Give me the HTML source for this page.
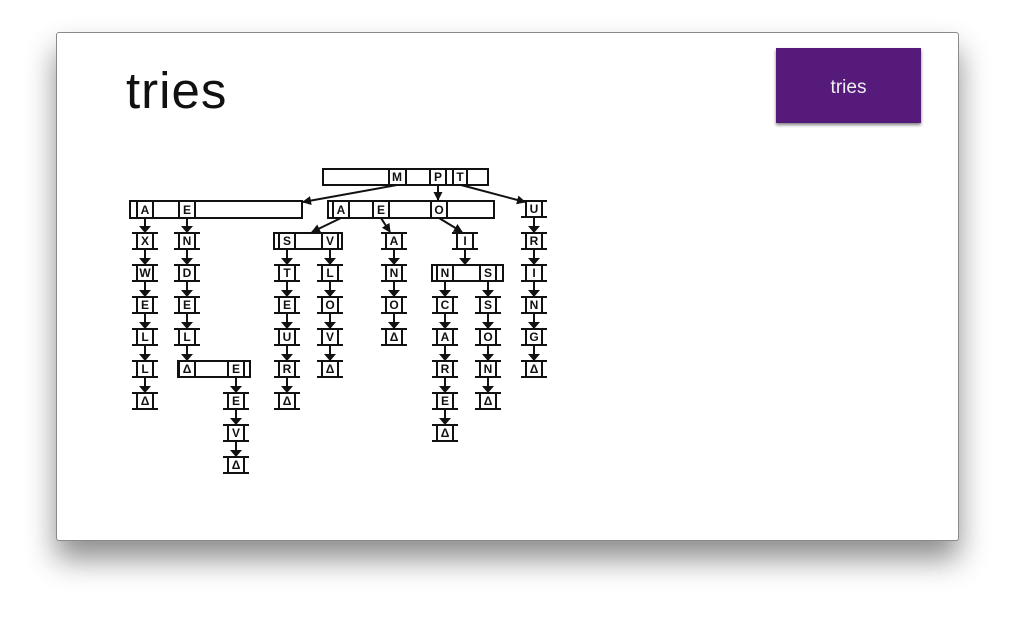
<!DOCTYPE html>
<html><head><meta charset="utf-8"><style>
body{margin:0;width:1014px;height:620px;background:#fff;overflow:hidden;font-family:"Liberation Sans",sans-serif}
.card{position:absolute;left:56px;top:32px;width:901px;height:507px;background:#fff;border:1px solid #8a8a8a;border-radius:3px;box-shadow:0 18px 30px rgba(0,0,0,.45)}
.title{position:absolute;left:126px;top:61px;font-size:51px;color:#111;font-weight:300;letter-spacing:1px}
.btn{position:absolute;left:776px;top:48px;width:145px;height:75px;background:#561a7b;color:#eee;font-size:19px;text-align:center;line-height:79px;box-shadow:0 2px 3px rgba(0,0,0,.5)}
svg{position:absolute;left:0;top:0}
text{font-family:"Liberation Sans",sans-serif;font-weight:bold;font-size:12px;text-anchor:middle;dominant-baseline:central;fill:#111}
</style></head><body>
<div class="card"></div>
<div class="title">tries</div>
<div class="btn">tries</div>
<svg width="1014" height="620">
<defs>
<g id="n" stroke="#111" stroke-width="2" fill="none"><rect x="-8" y="-8" width="16" height="16"/><line x1="-13" y1="-8" x2="13" y2="-8"/><line x1="-13" y1="8" x2="13" y2="8"/></g>
<g id="a" stroke="#111" stroke-width="2"><line x1="0" y1="8" x2="0" y2="20"/><polygon points="-6,17 6,17 0,24" fill="#111" stroke="none"/></g>
<marker id="m" markerWidth="9" markerHeight="9" refX="8" refY="4.5" orient="auto" markerUnits="userSpaceOnUse"><path d="M0,0 L9,4.5 L0,9z" fill="#111"/></marker>
</defs>
<g stroke="#111" stroke-width="2" fill="none">
<rect x="323" y="169" width="165" height="16"/>
<rect x="389" y="169" width="17" height="16"/><rect x="430" y="169" width="16" height="16"/><rect x="453" y="169" width="14" height="16"/>
<rect x="130" y="201" width="172" height="17"/>
<rect x="137" y="201" width="16" height="17"/><rect x="179" y="201" width="16" height="17"/>
<rect x="328" y="201" width="166" height="17"/>
<rect x="333" y="201" width="16" height="17"/><rect x="373" y="201" width="16" height="17"/><rect x="431" y="201" width="16" height="17"/>
<rect x="274" y="233" width="68" height="16"/>
<rect x="279" y="233" width="16" height="16"/><rect x="322" y="233" width="16" height="16"/>
<rect x="432" y="265" width="71" height="16"/>
<rect x="437" y="265" width="16" height="16"/><rect x="480" y="265" width="16" height="16"/>
<rect x="178" y="361" width="72" height="16"/>
<rect x="179" y="361" width="16" height="16"/><rect x="228" y="361" width="16" height="16"/>
<line x1="397" y1="185" x2="303" y2="202" marker-end="url(#m)"/>
<line x1="438" y1="185" x2="438" y2="200" marker-end="url(#m)"/>
<line x1="461" y1="185" x2="525" y2="202" marker-end="url(#m)"/>
<line x1="341" y1="218" x2="312" y2="232" marker-end="url(#m)"/>
<line x1="381" y1="218" x2="390" y2="232" marker-end="url(#m)"/>
<line x1="439" y1="218" x2="462" y2="232" marker-end="url(#m)"/>
</g>
<use href="#n" x="534" y="209"/>
<use href="#n" x="145" y="241"/><use href="#n" x="145" y="273"/><use href="#n" x="145" y="305"/><use href="#n" x="145" y="337"/><use href="#n" x="145" y="369"/><use href="#n" x="145" y="401"/>
<use href="#n" x="187" y="241"/><use href="#n" x="187" y="273"/><use href="#n" x="187" y="305"/><use href="#n" x="187" y="337"/>
<use href="#n" x="236" y="401"/><use href="#n" x="236" y="433"/><use href="#n" x="236" y="465"/>
<use href="#n" x="287" y="273"/><use href="#n" x="287" y="305"/><use href="#n" x="287" y="337"/><use href="#n" x="287" y="369"/><use href="#n" x="287" y="401"/>
<use href="#n" x="330" y="273"/><use href="#n" x="330" y="305"/><use href="#n" x="330" y="337"/><use href="#n" x="330" y="369"/>
<use href="#n" x="394" y="241"/><use href="#n" x="394" y="273"/><use href="#n" x="394" y="305"/><use href="#n" x="394" y="337"/>
<use href="#n" x="465" y="241"/>
<use href="#n" x="445" y="305"/><use href="#n" x="445" y="337"/><use href="#n" x="445" y="369"/><use href="#n" x="445" y="401"/><use href="#n" x="445" y="433"/>
<use href="#n" x="488" y="305"/><use href="#n" x="488" y="337"/><use href="#n" x="488" y="369"/><use href="#n" x="488" y="401"/>
<use href="#n" x="534" y="241"/><use href="#n" x="534" y="273"/><use href="#n" x="534" y="305"/><use href="#n" x="534" y="337"/><use href="#n" x="534" y="369"/>
<use href="#a" x="145" y="209"/><use href="#a" x="145" y="241"/><use href="#a" x="145" y="273"/><use href="#a" x="145" y="305"/><use href="#a" x="145" y="337"/><use href="#a" x="145" y="369"/>
<use href="#a" x="187" y="209"/><use href="#a" x="187" y="241"/><use href="#a" x="187" y="273"/><use href="#a" x="187" y="305"/><use href="#a" x="187" y="337"/>
<use href="#a" x="236" y="369"/><use href="#a" x="236" y="401"/><use href="#a" x="236" y="433"/>
<use href="#a" x="287" y="241"/><use href="#a" x="287" y="273"/><use href="#a" x="287" y="305"/><use href="#a" x="287" y="337"/><use href="#a" x="287" y="369"/>
<use href="#a" x="330" y="241"/><use href="#a" x="330" y="273"/><use href="#a" x="330" y="305"/><use href="#a" x="330" y="337"/>
<use href="#a" x="394" y="241"/><use href="#a" x="394" y="273"/><use href="#a" x="394" y="305"/>
<use href="#a" x="465" y="241"/>
<use href="#a" x="445" y="273"/><use href="#a" x="445" y="305"/><use href="#a" x="445" y="337"/><use href="#a" x="445" y="369"/><use href="#a" x="445" y="401"/>
<use href="#a" x="488" y="273"/><use href="#a" x="488" y="305"/><use href="#a" x="488" y="337"/><use href="#a" x="488" y="369"/>
<use href="#a" x="534" y="209"/><use href="#a" x="534" y="241"/><use href="#a" x="534" y="273"/><use href="#a" x="534" y="305"/><use href="#a" x="534" y="337"/>
<text x="397" y="177">M</text><text x="438" y="177">P</text><text x="460" y="177">T</text>
<text x="145" y="210">A</text><text x="187" y="210">E</text>
<text x="341" y="210">A</text><text x="381" y="210">E</text><text x="439" y="210">O</text>
<text x="534" y="209">U</text>
<text x="145" y="241">X</text><text x="145" y="273">W</text><text x="145" y="305">E</text><text x="145" y="337">L</text><text x="145" y="369">L</text><text x="145" y="401" font-size="10">Δ</text>
<text x="187" y="241">N</text><text x="187" y="273">D</text><text x="187" y="305">E</text><text x="187" y="337">L</text><text x="187" y="369" font-size="10">Δ</text>
<text x="236" y="369">E</text><text x="236" y="401">E</text><text x="236" y="433">V</text><text x="236" y="465" font-size="10">Δ</text>
<text x="287" y="241">S</text><text x="287" y="273">T</text><text x="287" y="305">E</text><text x="287" y="337">U</text><text x="287" y="369">R</text><text x="287" y="401" font-size="10">Δ</text>
<text x="330" y="241">V</text><text x="330" y="273">L</text><text x="330" y="305">O</text><text x="330" y="337">V</text><text x="330" y="369" font-size="10">Δ</text>
<text x="394" y="241">A</text><text x="394" y="273">N</text><text x="394" y="305">O</text><text x="394" y="337" font-size="10">Δ</text>
<text x="465" y="241">I</text>
<text x="445" y="273">N</text><text x="445" y="305">C</text><text x="445" y="337">A</text><text x="445" y="369">R</text><text x="445" y="401">E</text><text x="445" y="433" font-size="10">Δ</text>
<text x="488" y="273">S</text><text x="488" y="305">S</text><text x="488" y="337">O</text><text x="488" y="369">N</text><text x="488" y="401" font-size="10">Δ</text>
<text x="534" y="241">R</text><text x="534" y="273">I</text><text x="534" y="305">N</text><text x="534" y="337">G</text><text x="534" y="369" font-size="10">Δ</text>
</svg>
</body></html>
